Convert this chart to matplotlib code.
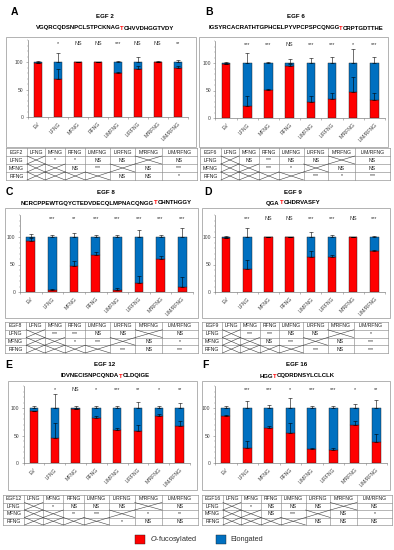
import matplotlib.pyplot as plt
import matplotlib.ticker as mticker
from matplotlib.patches import Rectangle

plt.rcParams["font.family"] = ["Liberation Sans", "DejaVu Sans"]

W, H = 394, 550

# ── Data ─────────────────────────────────────────────────────────────────────
CONSTRUCTS = ["EV", "LFNG", "MFNG", "RFNG", "L/MFNG", "L/RFNG", "M/RFNG", "L/M/RFNG"]
TABLE_COLS = ["LFNG", "MFNG", "RFNG", "L/MFNG", "L/RFNG", "M/RFNG", "L/M/RFNG"]
TABLE_ROWS = ["LFNG", "MFNG", "RFNG"]

# EGF2
EGF2_SEQ = ["VGQRCQDSNPCLSTPCKNAG", "T", "CHVVDHGGTVDY"]
EGF2_FUC = [99, 70, 100, 100, 80, 88, 100, 90]
EGF2_FUC_ERR = [0, 17, 0, 0, 2, 5, 0, 3]
EGF2_ELO_ERR = [1, 17, 0, 0.5, 2, 9, 1, 4]
EGF2_SIG = ["", "*", "NS", "NS", "***", "NS", "NS", "**"]
EGF2_TABLE = [["X", "*", "*", "NS", "NS", "X", "NS"],
              ["X", "X", "NS", "***", "X", "NS", "***"],
              ["X", "X", "X", "X", "NS", "NS", "*"]]

# EGF6
EGF6_SEQ = ["IGSYRCACRATHTGPHCELPYVPCPSPCQNGG", "T", "CRPTGDTTHE"]
EGF6_FUC = [98, 22, 51, 95, 29, 34, 48, 33]
EGF6_FUC_ERR = [0, 18, 2, 3, 11, 12, 26, 13]
EGF6_ELO_ERR = [1, 18, 2, 7, 10, 11, 26, 11]
EGF6_SIG = ["", "***", "***", "NS", "***", "***", "*", "***"]
EGF6_TABLE = [["X", "NS", "***", "NS", "NS", "X", "NS"],
              ["X", "X", "***", "*", "X", "NS", "NS"],
              ["X", "X", "X", "X", "***", "*", "***"]]

# EGF8
EGF8_SEQ = ["NCRCPPEWTGQYCTEDVDECQLMPNACQNGG", "T", "CHNTHGGY"]
EGF8_FUC = [92, 3, 48, 68, 3, 16, 60, 10]
EGF8_FUC_ERR = [6, 3, 8, 4, 4, 14, 5, 17]
EGF8_ELO_ERR = [6, 3, 7, 4, 4, 13, 4, 16]
EGF8_SIG = ["", "***", "**", "***", "***", "***", "***", "***"]
EGF8_TABLE = [["X", "***", "***", "NS", "NS", "X", "NS"],
              ["X", "X", "*", "***", "X", "NS", "*"],
              ["X", "X", "X", "X", "***", "NS", "***"]]

# EGF9
EGF9_SEQ = ["QGA", "T", "CHDRVASFY"]
EGF9_FUC = [99, 42, 100, 100, 64, 63, 100, 75]
EGF9_FUC_ERR = [0, 17, 0, 0, 10, 5, 0, 2]
EGF9_ELO_ERR = [1, 17, 0, 0, 10, 4, 0, 2]
EGF9_SIG = ["", "***", "NS", "NS", "***", "***", "NS", "***"]
EGF9_TABLE = [["X", "***", "***", "NS", "NS", "X", "*"],
              ["X", "X", "NS", "***", "X", "NS", "***"],
              ["X", "X", "X", "X", "***", "NS", "***"]]

# EGF12
EGF12_SEQ = ["IDVNECISNPCQNDA", "T", "CLDQIGE"]
EGF12_FUC = [95, 45, 98, 82, 60, 59, 86, 67]
EGF12_FUC_ERR = [0, 27, 0, 3, 3, 11, 4, 10]
EGF12_ELO_ERR = [4, 26, 3, 3, 3, 11, 4, 10]
EGF12_SIG = ["", "*", "NS", "*", "***", "**", "*", "**"]
EGF12_TABLE = [["X", "*", "NS", "NS", "NS", "X", "NS"],
               ["X", "X", "**", "***", "X", "*", "**"],
               ["X", "X", "X", "X", "*", "NS", "NS"]]

# EGF16
EGF16_SEQ = ["HGG", "T", "CQDRDNSYLCLCLK"]
EGF16_FUC = [85, 27, 63, 54, 25, 24, 69, 38]
EGF16_FUC_ERR = [3, 13, 5, 18, 3, 4, 8, 15]
EGF16_ELO_ERR = [3, 13, 5, 18, 3, 3, 7, 14]
EGF16_SIG = ["", "***", "***", "*", "***", "***", "*", "**"]
EGF16_TABLE = [["X", "*", "NS", "NS", "NS", "X", "NS"],
               ["X", "X", "NS", "***", "X", "NS", "*"],
               ["X", "X", "X", "X", "NS", "NS", "NS"]]

RED = "#FF0000"
BLUE = "#0070C0"
GRID = "#8C8C8C"

# panel layout in pixels: letter, name, data, box, axes x-range, y of value 0,
# table box, centre x of titles, (letter x, letter y, name y, sequence y)
PANELS = [
    ("A", "EGF 2", "EGF2", EGF2_SEQ, EGF2_FUC, EGF2_FUC_ERR, EGF2_ELO_ERR, EGF2_SIG, EGF2_TABLE,
     (6, 37, 196, 147), (28, 187.5), 117, (6, 148, 197, 180), 105, (11, 12, 16, 28)),
    ("B", "EGF 6", "EGF6", EGF6_SEQ, EGF6_FUC, EGF6_FUC_ERR, EGF6_ELO_ERR, EGF6_SIG, EGF6_TABLE,
     (199, 37, 388, 147), (215.5, 385), 118, (200, 148, 390, 180), 296, (205, 12, 16, 28)),
    ("C", "EGF 8", "EGF8", EGF8_SEQ, EGF8_FUC, EGF8_FUC_ERR, EGF8_ELO_ERR, EGF8_SIG, EGF8_TABLE,
     (5, 208, 198, 318), (20, 193), 292, (5, 322, 198, 353), 106, (6, 192, 192, 203)),
    ("D", "EGF 9", "EGF9", EGF9_SEQ, EGF9_FUC, EGF9_FUC_ERR, EGF9_ELO_ERR, EGF9_SIG, EGF9_TABLE,
     (202, 208, 390, 318), (215.5, 385), 292, (202, 322, 388, 353), 293, (204, 192, 192, 203)),
    ("E", "EGF 12", "EGF12", EGF12_SEQ, EGF12_FUC, EGF12_FUC_ERR, EGF12_ELO_ERR, EGF12_SIG, EGF12_TABLE,
     (8, 381, 197, 490), (23.6, 190), 463, (3, 495, 198, 525), 105, (5, 365, 365, 376)),
    ("F", "EGF 16", "EGF16", EGF16_SEQ, EGF16_FUC, EGF16_FUC_ERR, EGF16_ELO_ERR, EGF16_SIG, EGF16_TABLE,
     (202, 381, 390, 490), (215, 387), 463, (202, 495, 392, 525), 297, (202, 365, 365, 376)),
]

COL_FRAC = [0.11, 0.095, 0.105, 0.105, 0.13, 0.13, 0.14, 0.185]
PX_PER_UNIT = 0.55
YMAX = 140


def fx(x):
    return x / W


def fy(y):
    return 1 - y / H


fig = plt.figure(figsize=(W / 100, H / 100), dpi=100)
renderer = fig.canvas.get_renderer()


def centred_parts(xc, y, parts, colors, size):
    texts = [fig.text(0, fy(y), p, color=c, fontsize=size, fontweight="bold",
                      va="center", ha="left")
             for p, c in zip(parts, colors)]
    widths = [t.get_window_extent(renderer).width for t in texts]
    x = xc - sum(widths) / 2
    for t, w in zip(texts, widths):
        t.set_x(fx(x))
        x += w


for (letter, name, short, seq, fuc, fuc_err, elo_err, sig, table,
     box, axx, y0, tbox, xc, ty) in PANELS:
    # outer frame of the chart
    bx0, by0, bx1, by1 = box
    fig.add_artist(Rectangle((fx(bx0), fy(by1)), (bx1 - bx0) / W, (by1 - by0) / H,
                             transform=fig.transFigure, fill=False,
                             edgecolor="#A6A6A6", linewidth=0.6))

    fig.text(fx(ty[0]), fy(ty[1]), letter, fontsize=7.5, fontweight="bold",
             va="center", ha="left")
    fig.text(fx(xc), fy(ty[2]), name, fontsize=4.4, fontweight="bold",
             va="center", ha="center")
    centred_parts(xc, ty[3], seq, ["black", RED, "black"], 4.3)

    # bar chart
    ytop = y0 - YMAX * PX_PER_UNIT
    ax = fig.add_axes([fx(axx[0]), fy(y0), (axx[1] - axx[0]) / W, (y0 - ytop) / H])
    x = range(len(CONSTRUCTS))
    elo = [100 - v for v in fuc]
    ax.bar(x, fuc, width=0.4, color=RED, edgecolor="#202020", linewidth=0.3, zorder=2)
    ax.bar(x, elo, width=0.4, bottom=fuc, color=BLUE, edgecolor="#202020",
           linewidth=0.3, zorder=2)
    ax.errorbar(x, fuc, yerr=[[0] * 8, fuc_err], fmt="none", ecolor="black",
                elinewidth=0.4, capsize=1.3, capthick=0.4, zorder=3)
    ax.errorbar(x, [100] * 8, yerr=[[0] * 8, elo_err], fmt="none", ecolor="black",
                elinewidth=0.4, capsize=1.3, capthick=0.4, zorder=3)
    for i, s in enumerate(sig):
        ax.text(i, 133, s, fontsize=3.9, ha="center", va="center", color="#303030")

    ax.set_xlim(-0.5, 7.5)
    ax.set_ylim(0, YMAX)
    ax.set_xticks(list(x))
    ax.set_xticklabels(CONSTRUCTS, rotation=45, ha="right", rotation_mode="anchor",
                       fontsize=3.7, color="#404040")
    ax.xaxis.set_minor_locator(mticker.FixedLocator([i + 0.5 for i in range(-1, 8)]))
    ax.tick_params(axis="x", which="major", length=0, pad=3)
    ax.tick_params(axis="x", which="minor", length=1.5, width=0.4, color="#808080")
    ax.set_yticks([0, 50, 100])
    ax.yaxis.set_minor_locator(mticker.MultipleLocator(10))
    ax.tick_params(axis="y", which="major", length=1.8, width=0.4, pad=1.5,
                   labelsize=3.6, color="#808080", labelcolor="#404040")
    ax.tick_params(axis="y", which="minor", length=1.0, width=0.3, color="#808080")
    for sp in ["top", "right"]:
        ax.spines[sp].set_visible(False)
    for sp in ["left", "bottom"]:
        ax.spines[sp].set_linewidth(0.5)
        ax.spines[sp].set_color("#808080")
    ax.patch.set_alpha(0)

    # comparison table
    tx0, ty0, tx1, ty1 = tbox
    tax = fig.add_axes([fx(tx0), fy(ty1), (tx1 - tx0) / W, (ty1 - ty0) / H])
    tax.set_xlim(0, 1)
    tax.set_ylim(4, 0)
    tax.axis("off")
    edges = [0]
    for f in COL_FRAC:
        edges.append(edges[-1] + f)
    for e in edges:
        tax.plot([e, e], [0, 4], color=GRID, lw=0.45, clip_on=False)
    for r in range(5):
        tax.plot([0, 1], [r, r], color=GRID, lw=0.45, clip_on=False)
    header = [short] + TABLE_COLS
    for c, h in enumerate(header):
        tax.text((edges[c] + edges[c + 1]) / 2, 0.5, h, fontsize=3.7,
                 ha="center", va="center", color="#202020")
    for r, (rname, row) in enumerate(zip(TABLE_ROWS, table), start=1):
        tax.text(edges[0] + COL_FRAC[0] / 2, r + 0.5, rname, fontsize=3.7,
                 ha="center", va="center", color="#202020")
        for c, v in enumerate(row, start=1):
            if v == "X":
                tax.plot([edges[c], edges[c + 1]], [r, r + 1], color="#404040", lw=0.4)
                tax.plot([edges[c], edges[c + 1]], [r + 1, r], color="#404040", lw=0.4)
            else:
                tax.text((edges[c] + edges[c + 1]) / 2, r + 0.5, v, fontsize=3.7,
                         ha="center", va="center", color="#202020")

# legend
fig.add_artist(Rectangle((fx(135), fy(544)), 10 / W, 9 / H, transform=fig.transFigure,
                         facecolor=RED, edgecolor="#202020", linewidth=0.3))
fig.text(fx(150), fy(539.5), r"$\mathit{O}$-fucosylated", fontsize=5.3,
         va="center", ha="left", color="#303030")
fig.add_artist(Rectangle((fx(216), fy(544)), 10 / W, 9 / H, transform=fig.transFigure,
                         facecolor=BLUE, edgecolor="#202020", linewidth=0.3))
fig.text(fx(230), fy(539.5), "Elongated", fontsize=5.3, va="center", ha="left",
         color="#303030")

fig.savefig("out.png", dpi=100)
